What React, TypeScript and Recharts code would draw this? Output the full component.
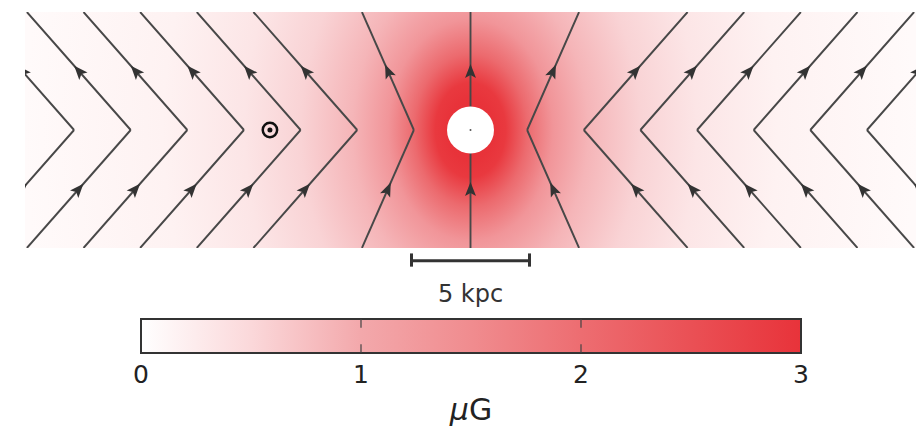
import React from 'react';
import {
  ComposedChart,
  Line,
  Area,
  XAxis,
  YAxis,
  CartesianGrid,
  ReferenceDot,
  ReferenceLine,
  ReferenceArea,
  Scatter,
} from 'recharts';

// ---- data (kpc) ----
// x of each field line where it crosses the galactic plane (z = 0)
const apexX = [-16.8, -14.4, -12.0, -9.6, -7.2, -4.8, -2.4, 0, 2.4, 4.8, 7.2, 9.6, 12.0, 14.4, 16.8];
// horizontal distance travelled by each line between z = 0 and |z| = 5 kpc
const spreadX = [4.4, 4.4, 4.4, 4.4, 4.4, 4.4, 2.2, 0, 2.2, 4.4, 4.4, 4.4, 4.4, 4.4, 4.4];
const zTop = 5;
const sunPosition = [{ x: -8.5, y: 0 }];
const scaleBarKpc = [-2.5, 2.5];
const scaleBarLabel = '5 kpc';
// colour bar (µG)
const colorTicks = [0, 1, 2, 3];
const colorbarRange = [
  { v: 0, top: 1 },
  { v: 3, top: 1 },
];
const colorUnitLabel = 'G';

// build the field-line segments (each runs upward: lower half then upper half)
type Pt = { x: number; y: number };
const segments: Pt[][] = [];
apexX.forEach((a, i) => {
  const side = a === 0 ? 0 : a < 0 ? -1 : 1;
  const outer = a + side * spreadX[i];
  const mid = (a + outer) / 2;
  segments.push([
    { x: outer, y: -zTop },
    { x: mid, y: -zTop / 2 },
    { x: a, y: 0 },
  ]);
  segments.push([
    { x: a, y: 0 },
    { x: mid, y: zTop / 2 },
    { x: outer, y: zTop },
  ]);
});

const FONT = '"DejaVu Sans", Verdana, sans-serif';

const SunShape = (props: any) => {
  const { cx, cy } = props;
  return (
    <g>
      <circle cx={cx} cy={cy} r={7.2} fill="none" stroke="#111" strokeWidth={2.5} />
      <circle cx={cx} cy={cy} r={2.5} fill="#111" />
    </g>
  );
};

const MuGLabel = (props: any) => {
  const vb = props.viewBox || { x: 141, y: 43, width: 660, height: 77 };
  return (
    <text
      x={vb.x + vb.width / 2}
      y={vb.y + 67}
      textAnchor="middle"
      fontSize={30}
      fontFamily={FONT}
      fill="#222"
    >
      <tspan fontStyle="italic">μ</tspan>
      <tspan>{colorUnitLabel}</tspan>
    </text>
  );
};

export default function App() {
  return (
    <div
      style={{
        position: 'absolute',
        left: 0,
        top: 0,
        width: 916,
        height: 430,
        background: '#fff',
        fontFamily: FONT,
        overflow: 'hidden',
      }}
    >
      <div style={{ position: 'absolute', left: 0, top: 0 }}>
        <ComposedChart width={916} height={310} margin={{ top: 12, right: 0, bottom: 62, left: 25 }}>
          <defs>
            <radialGradient
              id="heat"
              cx="0.5"
              cy="0.5"
              r="0.5"
              gradientUnits="objectBoundingBox"
              gradientTransform="translate(0.5 0.5) scale(1 5.1) translate(-0.5 -0.5)"
            >
              <stop offset="0" stopColor="#e62e36" />
              <stop offset="0.053" stopColor="#e8333a" />
              <stop offset="0.079" stopColor="#e9393f" />
              <stop offset="0.127" stopColor="#ec6a6e" />
              <stop offset="0.185" stopColor="#f19599" />
              <stop offset="0.265" stopColor="#f5b5b8" />
              <stop offset="0.381" stopColor="#f9d3d5" />
              <stop offset="0.508" stopColor="#fce5e6" />
              <stop offset="0.69" stopColor="#fef2f2" />
              <stop offset="1" stopColor="#fffafa" />
            </radialGradient>
            <marker
              id="fieldArrow"
              viewBox="-9 -8 18 16"
              markerWidth={18}
              markerHeight={16}
              refX={0}
              refY={0}
              orient="auto"
              markerUnits="userSpaceOnUse"
            >
              <path d="M7,0 L-7,-5.5 L-4,0 L-7,5.5 Z" fill="#333" />
            </marker>
          </defs>
          <CartesianGrid horizontal={false} vertical={false} fill="url(#heat)" fillOpacity={1} />
          <XAxis type="number" dataKey="x" domain={[-18.88, 18.88]} allowDataOverflow hide />
          <YAxis type="number" dataKey="y" domain={[-5, 5]} allowDataOverflow hide />
          {segments.map((seg, i) => (
            <Line
              key={i}
              data={seg}
              dataKey="y"
              type="linear"
              stroke="#484848"
              strokeWidth={1.9}
              dot={false}
              activeDot={false}
              isAnimationActive={false}
              markerMid="url(#fieldArrow)"
              legendType="none"
            />
          ))}
          <ReferenceDot x={0} y={0} r={23.5} fill="#ffffff" stroke="none" zIndex={700} />
          <ReferenceDot x={0} y={0} r={1} fill="#555" stroke="none" zIndex={710} />
          <Scatter data={sunPosition} dataKey="y" shape={SunShape} isAnimationActive={false} legendType="none" />
          <ReferenceLine
            segment={[
              { x: scaleBarKpc[0], y: -5.54 },
              { x: scaleBarKpc[1], y: -5.54 },
            ]}
            stroke="#333"
            strokeWidth={3}
            ifOverflow="visible"
            label={{
              value: scaleBarLabel,
              position: 'bottom',
              offset: 24,
              fontSize: 24,
              fill: '#333',
              fontFamily: FONT,
            }}
          />
          <ReferenceLine
            segment={[
              { x: scaleBarKpc[0], y: -5.23 },
              { x: scaleBarKpc[0], y: -5.79 },
            ]}
            stroke="#333"
            strokeWidth={3}
            ifOverflow="visible"
          />
          <ReferenceLine
            segment={[
              { x: scaleBarKpc[1], y: -5.23 },
              { x: scaleBarKpc[1], y: -5.79 },
            ]}
            stroke="#333"
            strokeWidth={3}
            ifOverflow="visible"
          />
        </ComposedChart>
      </div>
      <div style={{ position: 'absolute', left: 0, top: 310 }}>
        <ComposedChart width={916} height={120} margin={{ top: 9, right: 115, bottom: 0, left: 141 }}>
          <defs>
            <linearGradient id="cbarGrad" x1="0" y1="0" x2="1" y2="0">
              <stop offset="0" stopColor="#ffffff" />
              <stop offset="0.167" stopColor="#fbd8da" />
              <stop offset="0.333" stopColor="#f3a8ab" />
              <stop offset="0.5" stopColor="#f08c8f" />
              <stop offset="0.667" stopColor="#ed6d71" />
              <stop offset="0.833" stopColor="#ea5055" />
              <stop offset="1" stopColor="#e8333a" />
            </linearGradient>
          </defs>
          <XAxis
            type="number"
            dataKey="v"
            domain={[0, 3]}
            ticks={colorTicks}
            interval={0}
            axisLine={false}
            tickLine={false}
            tickSize={0}
            tickMargin={12}
            height={77}
            tick={{ fontSize: 25, fill: '#222', fontFamily: FONT }}
            label={<MuGLabel />}
          />
          <YAxis type="number" dataKey="top" domain={[0, 1]} hide />
          <Area
            data={colorbarRange}
            dataKey="top"
            type="linear"
            baseValue={0}
            fill="url(#cbarGrad)"
            fillOpacity={1}
            stroke="none"
            isAnimationActive={false}
            dot={false}
            activeDot={false}
            legendType="none"
          />
          <ReferenceArea x1={0} x2={3} y1={0} y2={1} fill="none" stroke="#333" strokeWidth={2} />
          {[1, 2].map((t) => (
            <ReferenceLine
              key={`tb${t}`}
              segment={[
                { x: t, y: 0 },
                { x: t, y: 0.26 },
              ]}
              stroke="#444"
              strokeWidth={1.2}
            />
          ))}
          {[1, 2].map((t) => (
            <ReferenceLine
              key={`tt${t}`}
              segment={[
                { x: t, y: 0.74 },
                { x: t, y: 1 },
              ]}
              stroke="#444"
              strokeWidth={1.2}
            />
          ))}
        </ComposedChart>
      </div>
    </div>
  );
}
